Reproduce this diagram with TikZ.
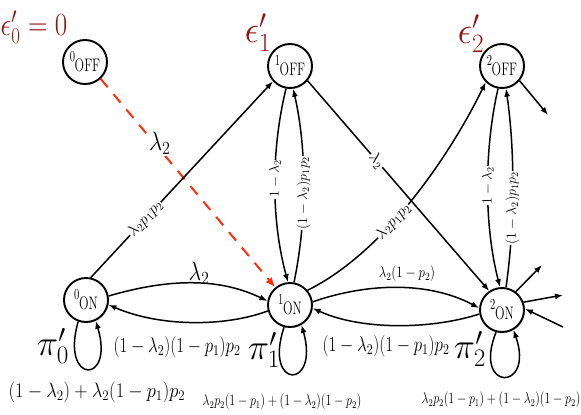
\RequirePackage{fix-cm}
\documentclass[tikz,border=0pt]{standalone}
\usepackage{graphicx}
\usetikzlibrary{arrows.meta,shadows}
\definecolor{epsred}{RGB}{145,18,18}
\definecolor{dashred}{RGB}{255,45,10}
\newcommand{\fs}[1]{\fontsize{#1}{#1}\selectfont}
\newcommand{\vst}[2]{\scalebox{1}[#1]{#2}}
\newcommand{\stlab}[2]{\scalebox{1}[1.45]{\fs{12.5}\raisebox{6pt}{\fs{10.5}#1}\kern-0.3pt\raisebox{-1pt}{#2}}}
\newcommand{\loopexpr}{$\lambda_2p_2(1-p_1)+(1-\lambda_2)(1-p_2)$}
\begin{document}
\begin{tikzpicture}[x=1pt,y=-1pt,
  st/.style={circle,draw,line width=1.9pt,minimum size=44pt,inner sep=0pt,fill=white,
    drop shadow={opacity=0.25,shadow xshift=1.2pt,shadow yshift=-1.2pt}},
  ed/.style={line width=1.5pt,-{Latex[length=8pt,width=6pt]}},
  dred/.style={draw=dashred,line width=2pt,dash pattern=on 11pt off 9pt,
    -{Latex[length=10pt,width=8pt,fill=dashred]}},
  slab/.style={fill=white,inner sep=0.8pt,font=\fs{16}},
  vlab/.style={fill=white,inner sep=0.8pt,font=\fs{14},rotate=90},
  eps/.style={text=epsred,inner sep=0pt},
  txt/.style={inner sep=0pt}]
\useasboundingbox (0,0) rectangle (581,415);

% states
\node[st] (z0off) at (85,62) {\stlab{0}{OFF}};
\node[st] (z1off) at (290,66) {\stlab{1}{OFF}};
\node[st] (z2off) at (502,66) {\stlab{2}{OFF}};
\node[st] (z0on) at (86,300) {\stlab{0}{ON}};
\node[st] (z1on) at (290,305) {\stlab{1}{ON}};
\node[st] (z2on) at (502,310) {\stlab{2}{ON}};

% dashed red
\draw[dred] (z0off.-47) -- node[pos=0.31,xshift=5pt,fill=white,inner sep=1pt,font=\fs{23}] (ld) {\vst{1.15}{$\lambda_2$}} (z1on.130);

% 0ON -> 1OFF
\draw[ed] (z0on.78) -- node[slab,sloped,pos=0.3] (la) {$\lambda_2p_1p_2$} (z1off.-138);

% 0ON <-> 1ON
\draw[ed] (z0on.10) .. controls (170,278) and (220,278) .. (z1on.170);
\draw[ed] (z1on.195) .. controls (225,327) and (160,327) .. (z0on.-12);
\draw[ed] (z0on.-110) .. controls (60,385) and (115,385) .. (z0on.-65);

% 1OFF <-> 1ON
\draw[ed] (z1off.-100) .. controls (271,150) and (271,220) .. node[vlab,pos=0.47] (lb) {$1-\lambda_2$} (z1on.95);
\draw[ed] (z1on.80) .. controls (307,220) and (307,150) .. node[vlab,pos=0.46] (lc) {$(1-\lambda_2)p_1p_2$} (z1off.-82);

% 1OFF -> 2ON
\draw[ed] (z1off.-40) -- node[slab,sloped,pos=0.38] (le) {$\lambda_2$} (z2on.124);
% 1ON -> 2OFF
\draw[ed] (z1on.40) .. controls (385,252) and (450,155) .. node[slab,sloped,pos=0.4] (lf) {$\lambda_2p_1p_2$} (z2off.-135);

% 1ON <-> 2ON
\draw[ed] (z1on.8) .. controls (370,282) and (430,282) .. (z2on.175);
\draw[ed] (z2on.190) .. controls (430,330) and (360,330) .. (z1on.-8);
\draw[ed] (z1on.-105) .. controls (263,390) and (320,390) .. (z1on.-60);

% 2OFF <-> 2ON
\draw[ed] (z2off.-100) .. controls (484,150) and (484,225) .. node[vlab,pos=0.49] (lg) {$1-\lambda_2$} (z2on.95);
\draw[ed] (z2on.80) .. controls (515,225) and (515,150) .. node[vlab,pos=0.4] (lh) {$(1-\lambda_2)p_1p_2$} (z2off.-80);
\draw[ed] (z2on.-105) .. controls (472,392) and (535,392) .. (z2on.-60);

% outgoing / incoming stubs
\coordinate (o1) at (548,115);
\coordinate (o2) at (542,265);
\coordinate (o3) at (563,295);
\coordinate (o4) at (563,327);
\draw[ed] (z2off.-40) -- (o1);
\draw[ed] (z2on.53) -- (o2);
\draw[ed] (z2on.20) -- (o3);
\draw[ed] (o4) -- (z2on.3);

% labels
\node[txt,font=\fs{22}] (u01) at (199,273) {\vst{1.2}{$\lambda_2$}};
\node[txt,font=\fs{13}] (u12) at (407,274) {\vst{1.2}{$\lambda_2(1-p_2)$}};
\node[txt,font=\fs{17}] (m01) at (177,347) {\vst{1.25}{$(1-\lambda_2)(1-p_1)p_2$}};
\node[txt,font=\fs{17}] (m12) at (386,346) {\vst{1.25}{$(1-\lambda_2)(1-p_1)p_2$}};
\node[txt,font=\fs{18.5}] (b0) at (97,392) {\vst{1.12}{$(1-\lambda_2)+\lambda_2(1-p_1)p_2$}};
\node[txt,font=\fs{12}] (b1) at (282,402) {\vst{1.3}{\loopexpr}};
\node[txt,font=\fs{12}] (b2) at (501,400) {\vst{1.3}{\loopexpr}};

\node[eps,font=\fs{27}] (e0) at (34,27) {\vst{1.2}{$\epsilon'_0=0$}};
\node[eps,font=\fs{36}] (e1) at (258,33) {\vst{1.05}{$\epsilon'_1$}};
\node[eps,font=\fs{36}] (e2) at (471,34) {\vst{1.05}{$\epsilon'_2$}};

\node[txt,font=\fs{36}] (p0) at (53,346) {$\pi'_0$};
\node[txt,font=\fs{36}] (p1) at (264,350) {$\pi'_1$};
\node[txt,font=\fs{36}] (p2) at (470,349) {$\pi'_2$};
\end{tikzpicture}
\end{document}
